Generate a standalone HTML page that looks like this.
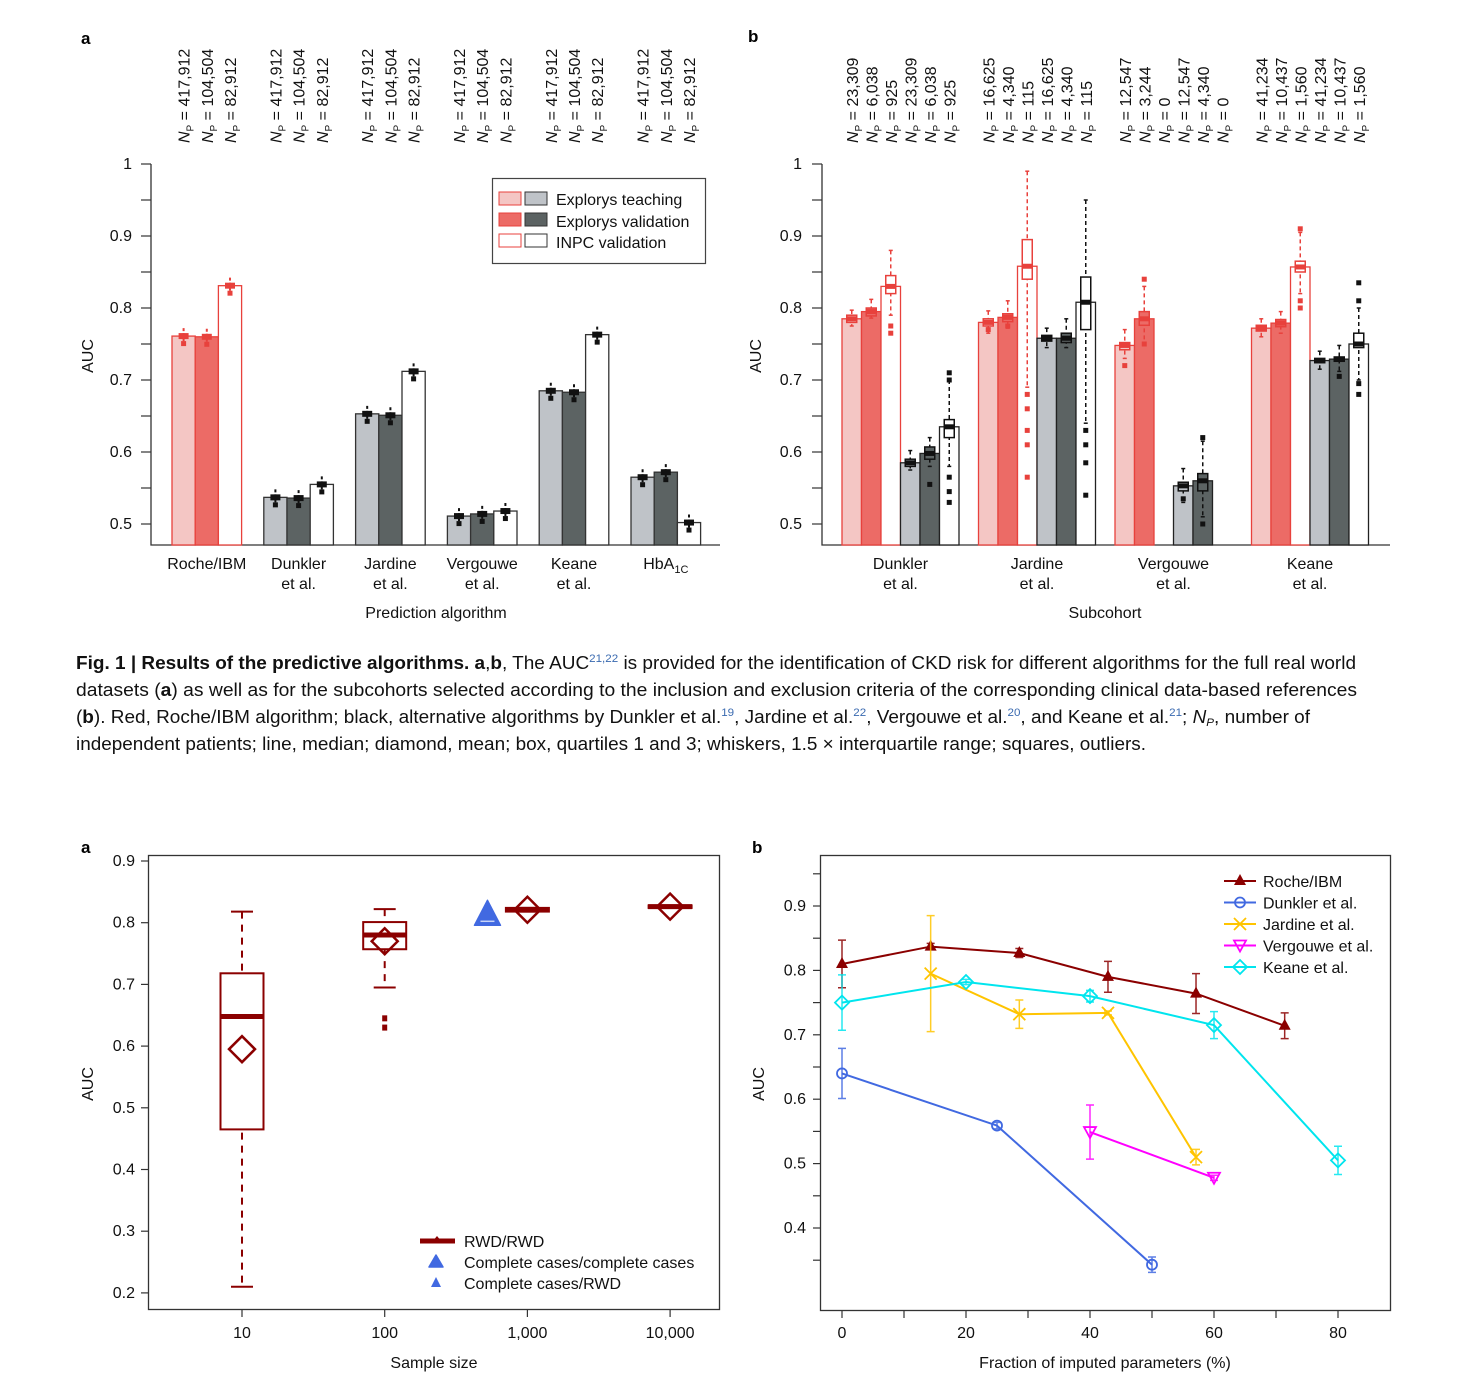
<!DOCTYPE html>
<html><head><meta charset="utf-8">
<style>
html,body{margin:0;padding:0;background:#fff;}
svg{display:block;font-family:"Liberation Sans",Arial,sans-serif;}
.t{font-size:16px;fill:#111;}
.cap{font-size:18px;fill:#111;}
</style></head>
<body>
<svg id="fig" width="1462" height="1386" viewBox="0 0 1462 1386" xmlns="http://www.w3.org/2000/svg">
  <text x="81" y="44" font-weight="bold" font-size="17">a</text>
  <text x="748" y="42" font-weight="bold" font-size="17">b</text>
  <text x="81" y="853" font-weight="bold" font-size="17">a</text>
  <text x="752" y="853" font-weight="bold" font-size="17">b</text>

  <g id="tlA"></g>
  <text class="t" transform="translate(93,356) rotate(-90)" text-anchor="middle">AUC</text>
  <text class="t" x="436" y="618" text-anchor="middle">Prediction algorithm</text>
  <g>
    <rect x="492.5" y="178.5" width="213" height="85" fill="#fff" stroke="#444" stroke-width="1.2"/>
    <rect x="499" y="192" width="22" height="13" fill="#f4c6c4" stroke="#e8413c"/>
    <rect x="525" y="192" width="22" height="13" fill="#bfc3c8" stroke="#333"/>
    <text class="t" x="556" y="205">Explorys teaching</text>
    <rect x="499" y="213" width="22" height="13" fill="#ec6b66" stroke="#e8413c"/>
    <rect x="525" y="213" width="22" height="13" fill="#5c6363" stroke="#333"/>
    <text class="t" x="556" y="227">Explorys validation</text>
    <rect x="499" y="234" width="22" height="13" fill="#fff" stroke="#e8413c"/>
    <rect x="525" y="234" width="22" height="13" fill="#fff" stroke="#333"/>
    <text class="t" x="556" y="248">INPC validation</text>
  </g>

  <g id="trB"></g>
  <text class="t" transform="translate(761,356) rotate(-90)" text-anchor="middle">AUC</text>
  <text class="t" x="1105" y="618" text-anchor="middle">Subcohort</text>

  <g>
    <text class="cap" x="76" y="669" textLength="1280" lengthAdjust="spacingAndGlyphs"><tspan font-weight="bold">Fig. 1 | Results of the predictive algorithms. a</tspan>,<tspan font-weight="bold">b</tspan>, The AUC<tspan font-size="11" dy="-7" fill="#3a6ab0">21,22</tspan><tspan dy="7"> is provided for the identification of CKD risk for different algorithms for the full real world</tspan></text>
    <text class="cap" x="76" y="696" textLength="1281" lengthAdjust="spacingAndGlyphs">datasets (<tspan font-weight="bold">a</tspan>) as well as for the subcohorts selected according to the inclusion and exclusion criteria of the corresponding clinical data-based references</text>
    <text class="cap" x="76" y="723" textLength="1234" lengthAdjust="spacingAndGlyphs">(<tspan font-weight="bold">b</tspan>). Red, Roche/IBM algorithm; black, alternative algorithms by Dunkler et al.<tspan font-size="11" dy="-7" fill="#3a6ab0">19</tspan><tspan dy="7">, Jardine et al.</tspan><tspan font-size="11" dy="-7" fill="#3a6ab0">22</tspan><tspan dy="7">, Vergouwe et al.</tspan><tspan font-size="11" dy="-7" fill="#3a6ab0">20</tspan><tspan dy="7">, and Keane et al.</tspan><tspan font-size="11" dy="-7" fill="#3a6ab0">21</tspan><tspan dy="7">; </tspan><tspan font-style="italic">N</tspan><tspan font-size="11" dy="3" font-style="italic">P</tspan><tspan dy="-3">, number of</tspan></text>
    <text class="cap" x="76" y="750" textLength="1070" lengthAdjust="spacingAndGlyphs">independent patients; line, median; diamond, mean; box, quartiles 1 and 3; whiskers, 1.5 × interquartile range; squares, outliers.</text>
  </g>

  <g id="blC"></g>
  <text class="t" transform="translate(93,1084) rotate(-90)" text-anchor="middle">AUC</text>
  <text class="t" x="434" y="1368" text-anchor="middle">Sample size</text>

  <g id="brD"></g>
  <text class="t" transform="translate(764,1084) rotate(-90)" text-anchor="middle">AUC</text>
  <text class="t" x="1105" y="1368" text-anchor="middle">Fraction of imputed parameters (%)</text>
</svg>
<script>
const catsA = ['Roche/IBM','Dunkler|et al.','Jardine|et al.','Vergouwe|et al.','Keane|et al.','HbA1C'];
const teachA = [0.761,0.537,0.653,0.511,0.685,0.565];
const validA = [0.760,0.536,0.651,0.514,0.683,0.572];
const inpcA  = [0.831,0.555,0.712,0.518,0.763,0.502];
const npA = ['417,912','104,504','82,912'];
const ticksTop = [0.5,0.6,0.7,0.8,0.9,1];
const tickLabelsTop = ['0.5','0.6','0.7','0.8','0.9','1'];

const catsB = ['Dunkler|et al.','Jardine|et al.','Vergouwe|et al.','Keane|et al.'];
const redTeachB = [0.785,0.780,0.748,0.772];
const redValidB = [0.795,0.787,0.785,0.779];
const redInpcB  = [0.830,0.858,null,0.857];
const blkTeachB = [0.585,0.758,0.553,0.727];
const blkValidB = [0.598,0.758,0.560,0.729];
const blkInpcB  = [0.635,0.808,null,0.750];
const boxLoB = [[0.780,0.789,0.820,0.580,0.590,0.620],[0.775,0.781,0.840,0.754,0.752,0.770],[0.742,0.776,null,0.546,0.546,null],[0.768,0.774,0.850,0.724,0.726,0.745]];
const boxHiB = [[0.790,0.800,0.845,0.590,0.607,0.645],[0.785,0.792,0.895,0.762,0.765,0.843],[0.752,0.795,null,0.558,0.570,null],[0.776,0.784,0.865,0.730,0.732,0.765]];
const whLoB  = [[0.775,0.786,0.790,0.575,0.580,0.580],[0.765,0.772,0.690,0.745,0.745,0.640],[0.730,0.750,null,0.530,0.510,null],[0.760,0.765,0.820,0.715,0.712,0.700]];
const whHiB  = [[0.797,0.812,0.880,0.602,0.620,0.700],[0.796,0.810,0.990,0.772,0.785,0.950],[0.770,0.830,null,0.577,0.615,null],[0.785,0.795,0.905,0.740,0.748,0.800]];
const outB = [[0,2,0.775],[0,2,0.765],[0,5,0.565],[0,5,0.545],[0,5,0.530],[0,4,0.555],[0,5,0.71],[0,5,0.70],
  [1,2,0.68],[1,2,0.66],[1,2,0.63],[1,2,0.61],[1,2,0.565],[1,5,0.63],[1,5,0.61],[1,5,0.585],[1,5,0.54],[1,0,0.77],[1,1,0.775],
  [2,0,0.72],[2,1,0.75],[2,1,0.84],[2,3,0.535],[2,4,0.50],[2,4,0.62],
  [3,2,0.80],[3,2,0.81],[3,2,0.91],[3,5,0.695],[3,5,0.68],[3,5,0.835],[3,5,0.81],[3,4,0.705]];
const npB = [['23,309','6,038','925','23,309','6,038','925'],['16,625','4,340','115','16,625','4,340','115'],['12,547','3,244','0','12,547','4,340','0'],['41,234','10,437','1,560','41,234','10,437','1,560']];

const sizesC = [10,100,1000,10000];
const q1C = [0.465,0.757,0.818,0.824];
const q3C = [0.718,0.801,0.824,0.828];
const medC = [0.648,0.780,0.821,0.826];
const meanC = [0.595,0.770,0.821,0.826];
const whLoC = [0.210,0.695,0.818,0.824];
const whHiC = [0.818,0.822,0.824,0.828];
const outSizeC = [100,100];
const outValC = [0.645,0.630];
const ccSizeC = [525];
const ccValC = [0.812];
const ticksC = [0.2,0.3,0.4,0.5,0.6,0.7,0.8,0.9];
const xLabelsC = ['10','100','1,000','10,000'];

const seriesNames = ['Roche/IBM','Dunkler et al.','Jardine et al.','Vergouwe et al.','Keane et al.'];
const rocheX = [0,14.3,28.6,42.9,57.1,71.4];
const rocheY = [0.810,0.837,0.827,0.790,0.764,0.714];
const rocheE = [0.037,0.005,0.007,0.024,0.031,0.020];
const dunklerX = [0,25,50];
const dunklerY = [0.640,0.559,0.343];
const dunklerE = [0.039,0.005,0.012];
const jardineX = [14.3,28.6,42.9,57.1];
const jardineY = [0.795,0.732,0.734,0.510];
const jardineE = [0.090,0.022,0.003,0.012];
const vergouweX = [40,60];
const vergouweY = [0.549,0.478];
const vergouweE = [0.042,0.004];
const keaneX = [0,20,40,60,80];
const keaneY = [0.750,0.782,0.760,0.715,0.505];
const keaneE = [0.043,0.004,0.009,0.021,0.022];
const ticksD = [0.4,0.5,0.6,0.7,0.8,0.9];
const xTicksD = [0,20,40,60,80];

const NS = 'http://www.w3.org/2000/svg';
function mk(tag, attrs, parent) {
  const e = document.createElementNS(NS, tag);
  for (const k in attrs) e.setAttribute(k, attrs[k]);
  parent.appendChild(e);
  return e;
}
function npLabel(parent, cx, text) {
  const t = mk('text', {transform: 'translate(' + (cx + 6) + ',143) rotate(-90)', 'font-size': 16, fill: '#111'}, parent);
  
  
  const a = mk('tspan', {'font-style': 'italic'}, t); a.textContent = 'N';
  const b = mk('tspan', {'font-size': 10, dy: 4}, t); b.textContent = 'P';
  const c = mk('tspan', {dy: -4}, t); c.textContent = ' = ' + text;
}
function catLabel(parent, cx, label, y0) {
  const parts = label.split('|');
  parts.forEach((p, k) => {
    const t = mk('text', {x: cx, y: y0 + k * 20, 'text-anchor': 'middle', 'font-size': 16, fill: '#111'}, parent);
    
    
    if (p === 'HbA1C') {
      t.textContent = 'HbA';
      const s = mk('tspan', {'font-size': 11, dy: 4}, t); s.textContent = '1C';
    } else t.textContent = p;
  });
}

const yTop = v => 524 - (v - 0.5) * 720;

function topAxis(g, x0, x1, labelX) {
  const ax = mk('path', {d: 'M' + x0 + ',164 V545 H' + x1, fill: 'none', stroke: '#333', 'stroke-width': 1.3}, g);
  
  
  for (let v = 0.5; v <= 1.0001; v += 0.05) {
    const tk = mk('line', {x1: x0 - 10, x2: x0, y1: yTop(v), y2: yTop(v), stroke: '#333', 'stroke-width': 1.2}, g);
    
    
  }
  ticksTop.forEach((v, i) => {
    const t = mk('text', {x: labelX, y: yTop(v) + 5, 'text-anchor': 'end', 'font-size': 16, fill: '#111'}, g);
    
    
    t.textContent = tickLabelsTop[i];
  });
}

function errMark(g, cx, v, col) {
  const l = mk('line', {x1: cx, x2: cx, y1: yTop(v) - 8, y2: yTop(v) + 8, stroke: col, 'stroke-width': 2, 'stroke-dasharray': '3,2'}, g);
  
  
  const m = mk('rect', {x: cx - 5, y: yTop(v) - 3, width: 10, height: 6, fill: col}, g);
  
  
  const d = mk('rect', {x: cx - 2.5, y: yTop(v) + 5, width: 5, height: 5, fill: col}, g);
  
  
}

(function () {
  const g = document.getElementById('tlA');
  topAxis(g, 151, 720, 132);
  const W = 23.2;
  const fillsR = ['#f4c6c4', '#ec6b66', '#ffffff'];
  const fillsK = ['#bfc3c8', '#5c6363', '#ffffff'];
  const names = ['bar-teaching', 'bar-validation', 'bar-inpc'];
  const series = [teachA, validA, inpcA];
  catsA.forEach((c, i) => {
    const gx = 172 + 91.8 * i;
    series.forEach((s, k) => {
      const x = gx + k * W;
      const red = i === 0;
      const r = mk('rect', {x: x, y: yTop(s[i]), width: W, height: 545 - yTop(s[i]), fill: red ? fillsR[k] : fillsK[k], stroke: red ? '#e8413c' : '#333', 'stroke-width': 1.3}, g);
      
      
      errMark(g, x + W / 2, s[i], red ? '#e8413c' : '#111');
      npLabel(g, x + W / 2, npA[k]);
    });
    catLabel(g, gx + 1.5 * W, c, 569);
  });
})();

(function () {
  const g = document.getElementById('trB');
  topAxis(g, 822, 1390, 802);
  const W = 19.5;
  const fills = ['#f4c6c4', '#ec6b66', '#ffffff', '#bfc3c8', '#5c6363', '#ffffff'];
  const names = ['bar-red-teaching', 'bar-red-validation', 'bar-red-inpc', 'bar-black-teaching', 'bar-black-validation', 'bar-black-inpc'];
  const series = [redTeachB, redValidB, redInpcB, blkTeachB, blkValidB, blkInpcB];
  catsB.forEach((c, i) => {
    const gx = 842 + 136.5 * i;
    series.forEach((s, k) => {
      const x = gx + k * W;
      const cx = x + W / 2;
      npLabel(g, cx, npB[i][k]);
      const v = s[i];
      if (v === null) return;
      const col = k < 3 ? '#e8413c' : '#111';
      const r = mk('rect', {x: x, y: yTop(v), width: W, height: 545 - yTop(v), fill: fills[k], stroke: k < 3 ? '#e8413c' : '#222', 'stroke-width': 1.3}, g);
      
      
      const wl = mk('line', {x1: cx, x2: cx, y1: yTop(whHiB[i][k]), y2: yTop(whLoB[i][k]), stroke: col, 'stroke-width': 1.5, 'stroke-dasharray': '4,3'}, g);
      
      
      [whHiB[i][k], whLoB[i][k]].forEach(w => {
        const cap = mk('line', {x1: cx - 2, x2: cx + 2, y1: yTop(w), y2: yTop(w), stroke: col, 'stroke-width': 1.5}, g);
        
        
      });
      const b = mk('rect', {x: cx - 5, y: yTop(boxHiB[i][k]), width: 10, height: Math.max(2, yTop(boxLoB[i][k]) - yTop(boxHiB[i][k])), fill: fills[k], stroke: col, 'stroke-width': 1.5}, g);
      
      
      const m = mk('rect', {x: cx - 5, y: yTop(v) - 2.5, width: 10, height: 5, fill: col}, g);
      
      
    });
    catLabel(g, gx + 3 * W, c, 569);
  });
  outB.forEach(o => {
    const cx = 842 + 136.5 * o[0] + o[1] * W + W / 2;
    const s = mk('rect', {x: cx - 2.5, y: yTop(o[2]) - 2.5, width: 5, height: 5, fill: o[1] < 3 ? '#e8413c' : '#111'}, g);
    
    
  });
})();

(function () {
  const g = document.getElementById('blC');
  const yC = v => 861 + (0.9 - v) * 617;
  const xC = s => 242 + 142.7 * (Math.log10(s) - 1);
  const DR = '#8b0000';
  const fr = mk('rect', {x: 148.5, y: 855.5, width: 571, height: 454, fill: 'none', stroke: '#333', 'stroke-width': 1.3}, g);
  
  
  ticksC.forEach(v => {
    const tk = mk('line', {x1: 141, x2: 148, y1: yC(v), y2: yC(v), stroke: '#333', 'stroke-width': 1.2}, g);
    
    
    const t = mk('text', {x: 135, y: yC(v) + 5, 'text-anchor': 'end', 'font-size': 16, fill: '#111'}, g);
    
    
    t.textContent = v.toFixed(1);
  });
  sizesC.forEach((s, i) => {
    const x = xC(s);
    const tk = mk('line', {x1: x, x2: x, y1: 1310, y2: 1317, stroke: '#333', 'stroke-width': 1.2}, g);
    
    
    const t = mk('text', {x: x, y: 1338, 'text-anchor': 'middle', 'font-size': 16, fill: '#111'}, g);
    
    
    t.textContent = xLabelsC[i];
    const w = mk('line', {x1: x, x2: x, y1: yC(whHiC[i]), y2: yC(whLoC[i]), stroke: DR, 'stroke-width': 2, 'stroke-dasharray': '7,6'}, g);
    
    
    [whHiC[i], whLoC[i]].forEach(v => {
      const c = mk('line', {x1: x - 11, x2: x + 11, y1: yC(v), y2: yC(v), stroke: DR, 'stroke-width': 2}, g);
      
      
    });
    const b = mk('rect', {x: x - 21.5, y: yC(q3C[i]), width: 43, height: yC(q1C[i]) - yC(q3C[i]), fill: '#fff', stroke: DR, 'stroke-width': 2}, g);
    
    
    const m = mk('line', {x1: x - 22, x2: x + 22, y1: yC(medC[i]), y2: yC(medC[i]), stroke: DR, 'stroke-width': 5}, g);
    
    
    const my = yC(meanC[i]);
    const d = mk('path', {d: 'M' + x + ',' + (my - 13) + ' L' + (x + 13) + ',' + my + ' L' + x + ',' + (my + 13) + ' L' + (x - 13) + ',' + my + ' Z', fill: 'none', stroke: DR, 'stroke-width': 2.5}, g);
    
    
  });
  outSizeC.forEach((s, i) => {
    const o = mk('rect', {x: xC(s) - 2.5, y: yC(outValC[i]) - 3, width: 5, height: 6, fill: DR}, g);
    
    
  });
  ccSizeC.forEach((s, i) => {
    const x = xC(s), y = yC(ccValC[i]);
    const tr = mk('path', {d: 'M' + x + ',' + (y - 15) + ' L' + (x + 13) + ',' + (y + 10) + ' L' + (x - 13) + ',' + (y + 10) + ' Z', fill: '#4169e1', stroke: '#4169e1', 'stroke-width': 1.5, 'stroke-linejoin': 'round'}, g);
    
    
    const ln = mk('line', {x1: x - 7, x2: x + 7, y1: y + 6, y2: y + 6, stroke: '#c8d4f8', 'stroke-width': 1.5}, g);
    
    
  });
  const lg = mk('g', {}, g);
  
  
  const l1 = mk('line', {x1: 420, x2: 455, y1: 1241, y2: 1241, stroke: DR, 'stroke-width': 5}, lg);
  
  
  const l1m = mk('path', {d: 'M437,1236 L442,1242 L432,1242 Z', fill: DR}, lg);
  
  
  const l2 = mk('path', {d: 'M436,1255 L443,1267 L429,1267 Z', fill: '#4169e1', stroke: '#4169e1', 'stroke-width': 1.5, 'stroke-linejoin': 'round'}, lg);
  
  
  const l3 = mk('path', {d: 'M436,1277 L441,1287 L431,1287 Z', fill: '#4169e1'}, lg);
  
  
  ['RWD/RWD', 'Complete cases/complete cases', 'Complete cases/RWD'].forEach((s, i) => {
    const t = mk('text', {x: 464, y: 1247 + i * 21, 'font-size': 16, fill: '#111'}, lg);
    
    
    t.textContent = s;
  });
})();

(function () {
  const g = document.getElementById('brD');
  const yD = v => 906 + (0.9 - v) * 644;
  const xD = p => 842 + p * 6.2;
  const fr = mk('rect', {x: 820.5, y: 855.5, width: 570, height: 455, fill: 'none', stroke: '#333', 'stroke-width': 1.3}, g);
  
  
  for (let v = 0.35; v <= 0.951; v += 0.05) {
    const tk = mk('line', {x1: 813, x2: 820, y1: yD(v), y2: yD(v), stroke: '#333', 'stroke-width': 1.2}, g);
    
    
  }
  ticksD.forEach(v => {
    const t = mk('text', {x: 806, y: yD(v) + 5, 'text-anchor': 'end', 'font-size': 16, fill: '#111'}, g);
    
    
    t.textContent = v.toFixed(1);
  });
  for (let p = 0; p <= 80; p += 10) {
    const tk = mk('line', {x1: xD(p), x2: xD(p), y1: 1311, y2: 1318, stroke: '#333', 'stroke-width': 1.2}, g);
    
    
  }
  xTicksD.forEach(p => {
    const t = mk('text', {x: xD(p), y: 1338, 'text-anchor': 'middle', 'font-size': 16, fill: '#111'}, g);
    
    
    t.textContent = String(p);
  });
  const cols = ['#8b0000', '#4169e1', '#ffc400', '#ff00ff', '#00e5ee'];
  const markers = ['tri', 'circ', 'x', 'tridown', 'diam'];
  const data = [[rocheX, rocheY, rocheE], [dunklerX, dunklerY, dunklerE], [jardineX, jardineY, jardineE], [vergouweX, vergouweY, vergouweE], [keaneX, keaneY, keaneE]];
  function marker(parent, type, x, y, col) {
    let e;
    if (type === 'tri') e = mk('path', {d: 'M' + x + ',' + (y - 7) + ' L' + (x + 6) + ',' + (y + 4) + ' L' + (x - 6) + ',' + (y + 4) + ' Z', fill: col}, parent);
    else if (type === 'circ') e = mk('circle', {cx: x, cy: y, r: 5, fill: 'none', stroke: col, 'stroke-width': 1.8}, parent);
    else if (type === 'x') e = mk('path', {d: 'M' + (x - 6) + ',' + (y - 6) + ' L' + (x + 6) + ',' + (y + 6) + ' M' + (x + 6) + ',' + (y - 6) + ' L' + (x - 6) + ',' + (y + 6), stroke: col, 'stroke-width': 1.8}, parent);
    else if (type === 'tridown') e = mk('path', {d: 'M' + (x - 6) + ',' + (y - 5) + ' L' + (x + 6) + ',' + (y - 5) + ' L' + x + ',' + (y + 6) + ' Z', fill: 'none', stroke: col, 'stroke-width': 1.8}, parent);
    else e = mk('path', {d: 'M' + x + ',' + (y - 7) + ' L' + (x + 7) + ',' + y + ' L' + x + ',' + (y + 7) + ' L' + (x - 7) + ',' + y + ' Z', fill: 'none', stroke: col, 'stroke-width': 1.8}, parent);
    return e;
  }
  data.forEach((d, si) => {
    const sg = mk('g', {}, g);
    
    
    const pts = d[0].map((p, k) => xD(p) + ',' + yD(d[1][k])).join(' ');
    const pl = mk('polyline', {points: pts, fill: 'none', stroke: cols[si], 'stroke-width': 2}, sg);
    
    
    d[0].forEach((p, k) => {
      const x = xD(p), y = d[1][k], e = d[2][k];
      const eb = mk('path', {d: 'M' + x + ',' + yD(y + e) + ' V' + yD(y - e) + ' M' + (x - 4) + ',' + yD(y + e) + ' H' + (x + 4) + ' M' + (x - 4) + ',' + yD(y - e) + ' H' + (x + 4), stroke: cols[si], 'stroke-width': 1.5, fill: 'none', opacity: 0.85}, sg);
      
      
      const m = marker(sg, markers[si], x, yD(y), cols[si]);
      
      
    });
    const ly = 881 + si * 21.5;
    const ll = mk('line', {x1: 1224, x2: 1256, y1: ly, y2: ly, stroke: cols[si], 'stroke-width': 2}, g);
    
    
    const lm = marker(g, markers[si], 1240, ly, cols[si]);
    
    
    const lt = mk('text', {x: 1263, y: ly + 6, 'font-size': 16, fill: '#111'}, g);
    
    
    lt.textContent = seriesNames[si];
  });
})();
</script>
</body></html>
